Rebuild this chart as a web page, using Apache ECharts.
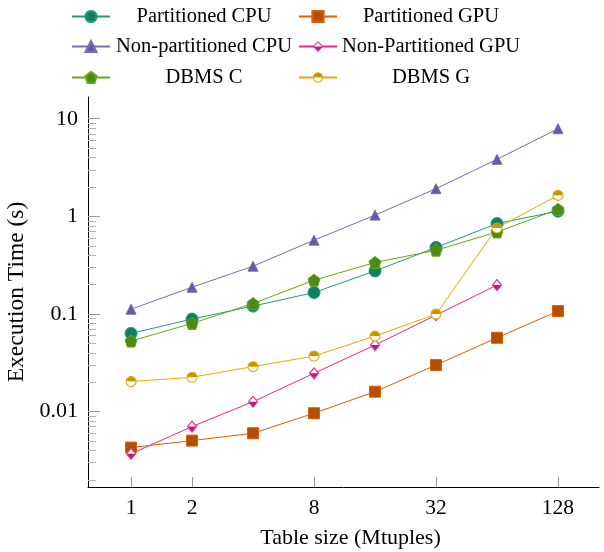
<!DOCTYPE html>
<html>
<head>
<meta charset="utf-8">
<script src="https://cdn.jsdelivr.net/npm/echarts@6/dist/echarts.min.js"></script>
<style>
html,body{margin:0;padding:0;background:#fff;}
#chart{width:604px;height:552px;}
</style>
</head>
<body>
<div id="chart"></div>
<script>
const sizes = [1, 2, 4, 8, 16, 32, 64, 128];
const xTickValues = [1, 2, 8, 32, 128];
const yTickValues = [0.01, 0.1, 1, 10];
const yMinorTickValues = [0.002,0.003,0.004,0.005,0.006,0.007,0.008,0.009,
  0.02,0.03,0.04,0.05,0.06,0.07,0.08,0.09,
  0.2,0.3,0.4,0.5,0.6,0.7,0.8,0.9,
  2,3,4,5,6,7,8,9];

const partitionedCPU = [0.0633, 0.0887, 0.1205, 0.166, 0.276, 0.480, 0.844, 1.13];
const partitionedGPU = [0.00428, 0.00505, 0.00601, 0.00963, 0.0160, 0.0300, 0.0571, 0.107];
const nonPartitionedCPU = [0.112, 0.188, 0.309, 0.570, 1.03, 1.92, 3.84, 7.9];
const nonPartitionedGPU = [0.0037, 0.00703, 0.01265, 0.0247, 0.0481, 0.0975, 0.198];
const dbmsC = [0.0528, 0.0801, 0.128, 0.222, 0.337, 0.450, 0.692, 1.18];
const dbmsG = [0.0203, 0.0225, 0.0289, 0.0371, 0.0594, 0.0998, 0.761, 1.64];

const names = ['Partitioned CPU', 'Partitioned GPU', 'Non-partitioned CPU', 'Non-Partitioned GPU', 'DBMS C', 'DBMS G'];

function svgImg(svg) { return 'image://data:image/svg+xml;charset=utf-8,' + encodeURIComponent(svg); }
const halfCircle = svgImg("<svg xmlns='http://www.w3.org/2000/svg' width='24' height='24' viewBox='0 0 24 24'><path d='M2,12 A10,10 0 0 1 22,12 Z' fill='#c89500'/><path d='M2,12 A10,10 0 0 0 22,12 Z' fill='#ffffff'/><circle cx='12' cy='12' r='10' fill='none' stroke='#e6ab02' stroke-width='2.2'/></svg>");
const halfDiamond = svgImg("<svg xmlns='http://www.w3.org/2000/svg' width='22' height='26' viewBox='0 0 22 26'><path d='M11,2 L20,13 L11,24 L2,13 Z' fill='#ffffff'/><path d='M2,13 L20,13 L11,24 Z' fill='#c2187a'/><path d='M11,2 L20,13 L11,24 L2,13 Z' fill='none' stroke='#e7298a' stroke-width='2.2'/></svg>");
const pentagon = 'path://M0,-1 L0.951,-0.309 L0.588,0.809 L-0.588,0.809 L-0.951,-0.309 Z';

function pairs(vals) { return vals.map((v, i) => [sizes[i], v]); }

const FONT = 'Liberation Serif';

function mkSeries(name, vals, color, symbol, size, fill) {
  return {
    name: name, type: 'line', data: pairs(vals),
    symbol: symbol, symbolSize: size,
    lineStyle: { color: color, width: 1 },
    itemStyle: { color: fill || color, borderColor: color, borderWidth: 1 },
    emphasis: { disabled: true },
    animation: false, z: 3
  };
}

const series = [
  mkSeries(names[0], partitionedCPU, '#1b9e77', 'circle', 12, '#137f61'),
  mkSeries(names[1], partitionedGPU, '#d95f02', 'rect', 11, '#b34f00'),
  mkSeries(names[2], nonPartitionedCPU, '#7570b3', 'triangle', 10, '#625ca6'),
  mkSeries(names[3], nonPartitionedGPU, '#e7298a', halfDiamond, [11, 13]),
  mkSeries(names[4], dbmsC, '#66a61e', pentagon, 12, '#4c8a12'),
  mkSeries(names[5], dbmsG, '#e6ab02', halfCircle, 12)
];

const legendPos = [[71, 6], [298, 6], [71, 36], [298, 36], [71, 67], [298, 67]];
const legends = names.map((n, i) => ({
  data: [n], left: legendPos[i][0], top: legendPos[i][1], padding: 0,
  itemWidth: 38, itemHeight: 14, selectedMode: false,
  formatter: function (name) { return '{c|' + name + '}'; },
  textStyle: { fontFamily: FONT, fontSize: 20.5, color: '#000',
    rich: { c: { width: 178, align: 'center', fontFamily: FONT, fontSize: 20.5, lineHeight: 24, color: '#000' } } }
}));

const chart = echarts.init(document.getElementById('chart'), null, { renderer: 'canvas' });
chart.setOption({
  animation: false,
  backgroundColor: '#fff',
  legend: legends,
  grid: { left: 88, right: 5, top: 97, bottom: 65, containLabel: false, outerBoundsMode: 'none' },
  xAxis: {
    type: 'log', logBase: 2, min: 0.613, max: 204,
    name: 'Table size (Mtuples)', nameLocation: 'middle', nameGap: 40,
    nameTextStyle: { fontFamily: FONT, fontSize: 22, color: '#000', padding: [0, 0, 0, 14] },
    axisLine: { lineStyle: { color: '#000', width: 1 } },
    axisTick: { inside: true, length: 10, customValues: xTickValues, lineStyle: { color: '#999' } },
    axisLabel: { customValues: xTickValues, fontFamily: FONT, fontSize: 21.5, color: '#000', margin: 10 },
    splitLine: { show: false }, minorTick: { show: false }
  },
  yAxis: [{
    type: 'log', logBase: 10, min: 0.00169, max: 16.7, position: 'left',
    name: 'Execution Time (s)', nameLocation: 'middle', nameGap: 55,
    nameTextStyle: { fontFamily: FONT, fontSize: 23.5, color: '#000' },
    axisLine: { lineStyle: { color: '#000', width: 1 } },
    axisTick: { inside: true, length: 12, customValues: yTickValues, lineStyle: { color: '#999' } },
    axisLabel: { customValues: yTickValues, fontFamily: FONT, fontSize: 22, color: '#000', margin: 10,
      formatter: function (v) { return String(+v.toPrecision(3)); } },
    splitLine: { show: false }
  }, {
    type: 'log', logBase: 10, min: 0.00169, max: 16.7, position: 'left', offset: 0,
    axisLine: { show: false },
    axisTick: { inside: true, length: 8, customValues: yMinorTickValues, lineStyle: { color: '#b5b5b5' } },
    axisLabel: { show: false },
    splitLine: { show: false }
  }],
  series: series
});
</script>
</body>
</html>
